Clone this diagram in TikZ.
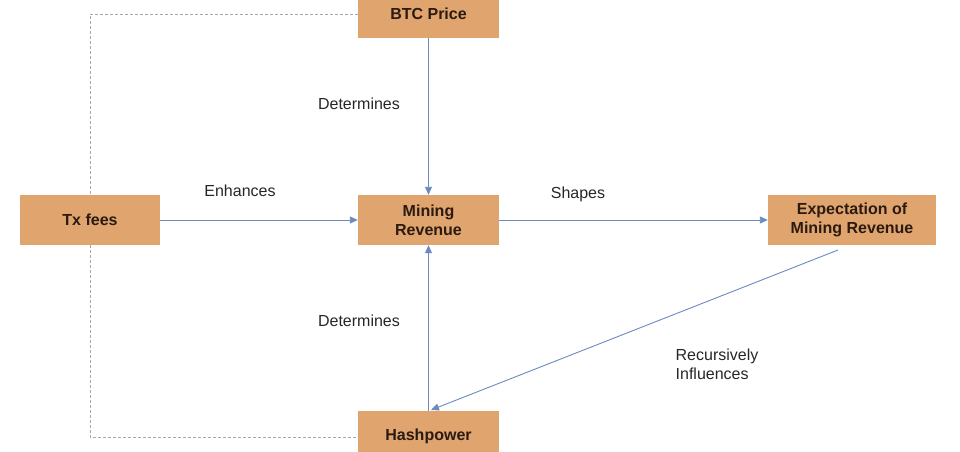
\documentclass[tikz,border=0pt]{standalone}
\usepackage{fontspec}
\setmainfont{Liberation Sans}
\usetikzlibrary{arrows.meta}
\definecolor{boxfill}{HTML}{E0A46E}
\definecolor{boxtext}{HTML}{2A1A10}
\definecolor{arrowc}{HTML}{6A8AC0}
\definecolor{dashc}{HTML}{A8A8A8}
\tikzset{
  box/.style={fill=boxfill, inner sep=0pt, align=center, text=boxtext, font=\fontsize{16}{19}\selectfont\bfseries},
  lbl/.style={font=\fontsize{16}{19}\selectfont, text=black!85, align=left},
  link/.style={draw=arrowc, line width=0.9pt, -{Triangle[length=8pt,width=7pt]}},
  dashlink/.style={draw=dashc, line width=0.8pt, dash pattern=on 3pt off 2pt}
}
\begin{document}
\begin{tikzpicture}[x=1pt,y=-1pt]
\useasboundingbox (0,0) rectangle (960,451);
\clip (0,0) rectangle (960,451);
\node[box, minimum width=141pt, minimum height=48pt] (btc) at (428.5,14) {BTC Price};
\node[box, minimum width=140pt, minimum height=50pt] (tx) at (90,220) {Tx fees};
\node[box, minimum width=141pt, minimum height=50pt] (mr) at (428.5,220) {Mining\\Revenue};
\node[box, minimum width=168pt, minimum height=50pt] (exp) at (852,220) {Expectation of\\Mining Revenue};
\node[box, minimum width=141pt, minimum height=50pt] (hp) at (428.5,436) {Hashpower};
\coordinate (expout) at (838,250);
\coordinate (hpin) at (431,410);
\draw[dashlink] (btc.west) -- (90,14) -- (tx.north);
\draw[dashlink] (tx.south) -- (90,437) -- (hp.west |- 0,437);
\draw[link] (btc.south) -- (mr.north);
\draw[link] (tx.east) -- (mr.west);
\draw[link] (mr.east) -- (exp.west);
\draw[link] (hp.north) -- (mr.south);
\draw[link] (expout) -- (hpin);
\node[lbl] (l1) at (359,104) {Determines};
\node[lbl] (l2) at (240,191) {Enhances};
\node[lbl] (l3) at (578,194) {Shapes};
\node[lbl] (l4) at (359,321) {Determines};
\node[lbl] (l5) at (717,364) {Recursively\\Influences};
\end{tikzpicture}
\end{document}
